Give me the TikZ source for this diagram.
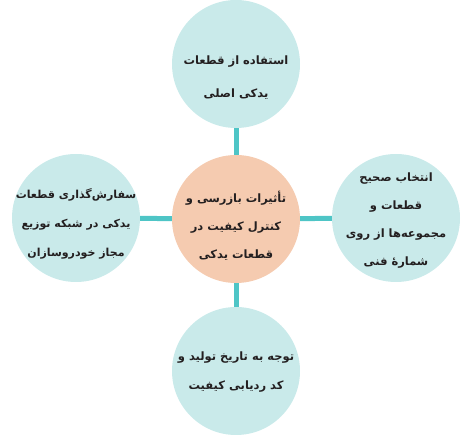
\documentclass[tikz,border=0pt]{standalone}
\usepackage{fontspec}
\newfontfamily\arabicfont[Script=Arabic]{DejaVu Sans}
\TeXXeTstate=1
\newcommand{\rl}[1]{\beginR #1\endR}
\definecolor{linecol}{HTML}{4EC5C6}
\definecolor{circfill}{HTML}{C9EAEA}
\definecolor{centfill}{HTML}{F5CBB0}
\definecolor{ink}{HTML}{231F20}
\tikzset{
  bubble/.style={circle, fill=circfill, minimum size=128pt, inner sep=0pt},
  hub/.style={bubble, fill=centfill},
  txt/.style={align=center, inner sep=0pt, text=ink,
    font=\arabicfont\bfseries\fontsize{11.5}{28}\selectfont},
  link/.style={draw=linecol, line width=5pt}
}
\begin{document}
\begin{tikzpicture}[x=1pt,y=1pt]
\useasboundingbox (0,0) rectangle (472,444);
\node[hub] (c) at (236,225) {};
\node[bubble] (t) at (236,380) {};
\node[bubble] (r) at (396,226) {};
\node[bubble] (l) at (76,226) {};
\node[bubble] (b) at (236,73) {};
\draw[link] (c) -- (t);
\draw[link] (c) -- (b);
\draw[link] (c) -- (l);
\draw[link] (c) -- (r);
\node[txt] (ct) at (236,218) {\rl{تأثیرات بازرسی و}\\ \rl{کنترل کیفیت در}\\ \rl{قطعات یدکی}};
\node[txt, font=\arabicfont\bfseries\fontsize{11.5}{33}\selectfont] (tt) at (236,366) {\rl{استفاده از قطعات}\\ \rl{یدکی اصلی}};
\node[txt] (rt) at (396,223) {\rl{انتخاب صحیح}\\ \rl{قطعات و}\\ \rl{مجموعه‌ها از روی}\\ \rl{شمارهٔ فنی}};
\node[txt, font=\arabicfont\bfseries\fontsize{11}{29}\selectfont] (lt) at (76,220) {\rl{سفارش‌گذاری قطعات}\\ \rl{یدکی در شبکه توزیع}\\ \rl{مجاز خودروسازان}};
\node[txt, font=\arabicfont\bfseries\fontsize{11.5}{29}\selectfont] (bt) at (236,72) {\rl{توجه به تاریخ تولید و}\\ \rl{کد ردیابی کیفیت}};
\end{tikzpicture}
\end{document}
